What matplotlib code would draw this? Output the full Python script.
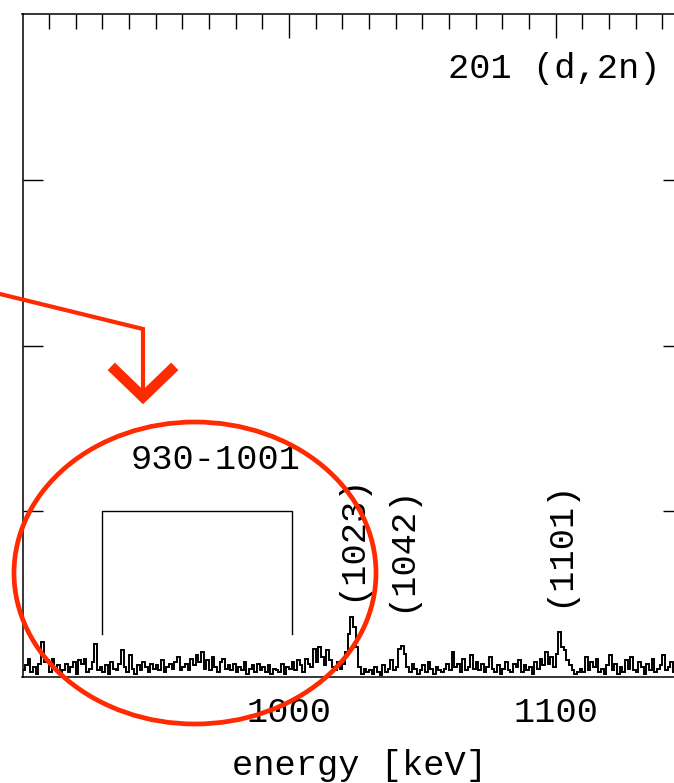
import numpy as np
import matplotlib.pyplot as plt
from matplotlib.patches import Ellipse

plt.rcParams['font.family'] = ['Liberation Mono', 'DejaVu Sans Mono']

# counts per 1 keV bin, 900 .. 1146 keV
e_lo = 900
counts = [
    4, 7, 11, 3, 6, 2, 8, 21, 9, 10,
    3, 11, 5, 7, 2, 4, 8, 3, 6, 9,
    2, 10, 8, 11, 3, 5, 9, 20, 4, 6,
    3, 7, 2, 9, 5, 4, 8, 16, 6, 3,
    13, 5, 2, 7, 4, 9, 6, 3, 8, 5,
    7, 4, 10, 3, 6, 8, 5, 9, 12, 4,
    6, 8, 4, 11, 7, 13, 9, 15, 5, 10,
    4, 12, 6, 3, 9, 11, 5, 7, 4, 8,
    3, 6, 4, 9, 2, 5, 7, 3, 8, 4,
    6, 3, 7, 2, 5, 4, 3, 8, 2, 6,
    5, 9, 4, 10, 7, 3, 11, 8, 6, 17,
    9, 18, 12, 7, 16, 10, 6, 4, 9, 5,
    8, 15, 26, 36, 30, 18, 6, 2, 5, 3,
    4, 2, 6, 3, 1, 7, 3, 5, 10, 4,
    6, 17, 19, 14, 6, 3, 8, 5, 2, 4,
    7, 3, 9, 5, 2, 6, 4, 3, 5, 8,
    4, 15, 6, 8, 3, 11, 4, 6, 13, 5,
    9, 4, 8, 3, 6, 12, 5, 3, 7, 2,
    5, 9, 4, 3, 8, 6, 10, 3, 7, 4,
    6, 2, 9, 5, 11, 7, 15, 8, 12, 6,
    14, 27, 18, 16, 10, 7, 4, 2, 3, 5,
    3, 12, 4, 9, 6, 11, 3, 5, 2, 7,
    13, 4, 8, 2, 6, 3, 10, 5, 12, 4,
    3, 9, 6, 2, 8, 4, 11, 3, 5, 7,
    13, 4, 6, 9, 3, 8,
]
edges = np.arange(e_lo, e_lo + len(counts) + 1)

# labelled lines and the summed band
peak_labels = [1023, 1042, 1101]
peak_label_y = [46, 39, 42]
band = (930, 1001)
band_y = (26, 100)
reaction = '201 (d,2n)'

W, H = 674, 783
fig = plt.figure(figsize=(W / 100, H / 100), dpi=100)
ax = fig.add_axes([22.5 / W, (H - 677) / H, 661 / W, 663 / H])

ax.stairs(counts, edges, color='black', lw=1.4)
ax.set_xlim(900, 1148)
ax.set_ylim(0, 400)

ax.set_xticks([1000, 1100])
ax.set_xticklabels(['1000', '1100'])
ax.set_xticks(np.arange(910, 1148, 10), minor=True)
ax.set_yticks([100, 200, 300])
ax.tick_params(axis='x', which='both', direction='in', bottom=False, top=True,
               labelbottom=True, labelsize=25.5, pad=14, width=1.0)
ax.tick_params(axis='x', which='major', length=17.5)
ax.tick_params(axis='x', which='minor', length=10.5)
ax.tick_params(axis='y', direction='in', left=True, right=True,
               labelleft=False, length=14.4, width=1.0)
for s in ax.spines.values():
    s.set_linewidth(1.1)

# summed band bracket
ax.plot([band[0], band[0], band[1], band[1]],
        [band_y[0], band_y[1], band_y[1], band_y[0]], color='black', lw=1.0)
ax.text(972.5, 131, '%d-%d' % band, ha='center', va='center', fontsize=25.5)

for e, yb in zip(peak_labels, peak_label_y):
    ax.text(e, yb, '(%d)' % e, rotation=90, ha='center', va='bottom', fontsize=25.5)

ax.text(1139.2, 367, reaction, ha='right', va='center', fontsize=25.5)

fig.text(360 / W, 1 - 765 / H, 'energy [keV]', ha='center', va='center', fontsize=25.5)

# red highlight drawn in pixel coordinates on top
ov = fig.add_axes([0, 0, 1, 1])
ov.set_xlim(0, W)
ov.set_ylim(H, 0)
ov.axis('off')
red = '#ff2a00'
ov.plot([0, 143, 143], [294, 329, 394], color=red, lw=3.0, solid_joinstyle='miter')
ov.plot([115, 143, 171], [370, 397, 370], color=red, lw=7.5, solid_joinstyle='miter')
ov.add_patch(Ellipse((195, 573), 362, 302, fill=False, ec=red, lw=3.4))

fig.savefig('out.png', dpi=100)
